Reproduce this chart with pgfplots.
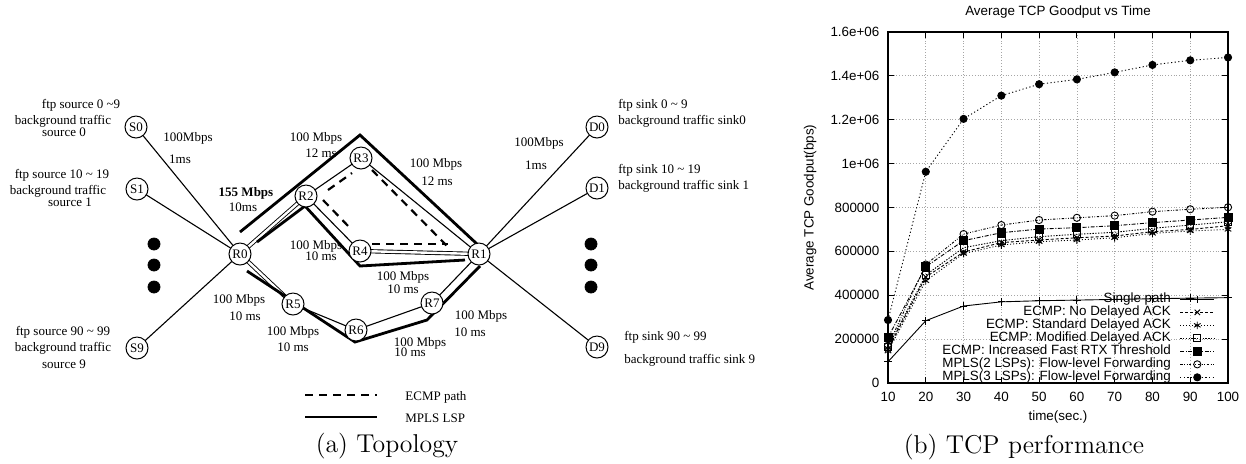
\documentclass[border=0pt]{standalone}
\usepackage{fontspec}
\usepackage{pgfplots}
\pgfplotsset{compat=1.18}
\newfontfamily\tnr{Liberation Serif}
\newfontfamily\helv{Liberation Sans}
\newcommand\tf{\tnr\fontsize{6.5}{7.5}\selectfont}
\newcommand\hf{\helv\fontsize{6.7}{8}\selectfont}
\pgfplotsset{
  thinlink/.style={black, line width=0.55pt, no marks},
  lsp/.style={black, line width=1.4pt, no marks},
  ecmp/.style={black, line width=1.1pt, dash pattern=on 4pt off 3pt, no marks},
  dbl/.style={black, line width=0.45pt, double=white, double distance=1.2pt, no marks},
}
\tikzset{lbl/.style={font=\tf, inner sep=0pt}}

\begin{document}
\begin{tikzpicture}
\path[use as bounding box] (0,0) rectangle (623pt,231.5pt);
% ---------------- (a) Topology ----------------
\begin{axis}[at={(195pt,115.75pt)}, anchor=center, scale only axis,
  width=390pt, height=231.5pt, xmin=0, xmax=780, ymin=0, ymax=463,
  y dir=reverse, hide axis, clip=false]
% access links
\addplot[thinlink] coordinates {(136,127) (240,254)};
\addplot[thinlink] coordinates {(137,189) (240,254)};
\addplot[thinlink] coordinates {(137,348) (240,254)};
\addplot[thinlink] coordinates {(479,254) (597,127)};
\addplot[thinlink] coordinates {(479,254) (597,188)};
\addplot[thinlink] coordinates {(479,254) (597,347)};
% core links
\addplot[thinlink] coordinates {(306,196) (361,158)};
\addplot[thinlink] coordinates {(361,158) (479,254)};
\addplot[thinlink] coordinates {(306,196) (360,251)};
\addplot[thinlink] coordinates {(293,304) (356,330)};
\addplot[thinlink] coordinates {(356,330) (432,303)};
\addplot[thinlink] coordinates {(432,303) (479,254)};
\addplot[dbl] coordinates {(240,254) (306,196)};
\addplot[dbl] coordinates {(240,254) (293,304)};
\addplot[dbl] coordinates {(360,251) (479,254)};
% MPLS LSPs
\addplot[lsp] coordinates {(240,232) (360,135) (477,244)};
\addplot[lsp] coordinates {(257,242) (305,206) (360,266) (465,260)};
\addplot[lsp] coordinates {(247,271) (355,342) (427,320) (480,266)};
% ECMP paths
\addplot[ecmp] coordinates {(328,190) (352,173)};
\addplot[ecmp] coordinates {(372,170) (450,249)};
\addplot[ecmp] coordinates {(323,200) (352,230)};
\addplot[ecmp] coordinates {(372,244) (448,244)};
% nodes with names
\addplot[only marks, mark=*, mark size=5.5pt,
  mark options={fill=white, draw=black, line width=0.5pt},
  point meta=explicit symbolic, nodes near coords, nodes near coords align=center,
  every node near coord/.append style={font=\tf, inner sep=0pt, anchor=center, black}]
  coordinates {(136,127)[S0] (137,189)[S1] (137,348)[S9] (597,127)[D0] (597,188)[D1] (597,347)[D9]
  (240,254)[R0] (479,254)[R1] (306,196)[R2] (361,158)[R3] (360,251)[R4] (293,304)[R5] (356,330)[R6] (432,303)[R7]};
% dots
\addplot[only marks, mark=*, mark size=3pt, black]
  coordinates {(154,244) (154,265) (154,287) (591,244) (591,265) (591,287)};
% legend
\addplot[ecmp] coordinates {(305,395) (377,395)};
\addplot[lsp] coordinates {(305,417) (377,417)};
\node[lbl, anchor=west] at (axis cs:405,397) {ECMP path};
\node[lbl, anchor=west] at (axis cs:405,418) {MPLS LSP};
% host labels
\node[lbl] at (axis cs:81,105) {ftp source 0 \textasciitilde9};
\node[lbl] at (axis cs:63,121) {background traffic};
\node[lbl] at (axis cs:64,132) {source 0};
\node[lbl] at (axis cs:62,175) {ftp source 10 \textasciitilde{} 19};
\node[lbl] at (axis cs:58,191) {background traffic};
\node[lbl] at (axis cs:70,202) {source 1};
\node[lbl] at (axis cs:63,332) {ftp source 90 \textasciitilde{} 99};
\node[lbl] at (axis cs:63,348) {background traffic};
\node[lbl] at (axis cs:64,364) {source 9};
\node[lbl, anchor=west] at (axis cs:618,105) {ftp sink 0 \textasciitilde{} 9};
\node[lbl, anchor=west] at (axis cs:618,121) {background traffic sink0};
\node[lbl, anchor=west] at (axis cs:618,170) {ftp sink 10 \textasciitilde{} 19};
\node[lbl, anchor=west] at (axis cs:618,186) {background traffic sink 1};
\node[lbl, anchor=west] at (axis cs:624,337) {ftp sink 90 \textasciitilde{} 99};
\node[lbl, anchor=west] at (axis cs:624,360) {background traffic sink 9};
% link labels
\node[lbl] at (axis cs:188,138) {100Mbps};
\node[lbl] at (axis cs:180,159) {1ms};
\node[lbl, font=\tf\bfseries] at (axis cs:246,193) {155 Mbps};
\node[lbl] at (axis cs:243,207) {10ms};
\node[lbl] at (axis cs:316,138) {100 Mbps};
\node[lbl] at (axis cs:321,153) {12 ms};
\node[lbl] at (axis cs:436,164) {100 Mbps};
\node[lbl] at (axis cs:437,181) {12 ms};
\node[lbl] at (axis cs:316,246) {100 Mbps};
\node[lbl] at (axis cs:321,256) {10 ms};
\node[lbl] at (axis cs:403,277) {100 Mbps};
\node[lbl] at (axis cs:403,289) {10 ms};
\node[lbl] at (axis cs:239,300) {100 Mbps};
\node[lbl] at (axis cs:245,316) {10 ms};
\node[lbl] at (axis cs:293,332) {100 Mbps};
\node[lbl] at (axis cs:293,347) {10 ms};
\node[lbl] at (axis cs:420,343) {100 Mbps};
\node[lbl] at (axis cs:410,352) {10 ms};
\node[lbl] at (axis cs:481,316) {100 Mbps};
\node[lbl] at (axis cs:470,332) {10 ms};
\node[lbl] at (axis cs:539,143) {100Mbps};
\node[lbl] at (axis cs:536,165) {1ms};
% captions
\node[inner sep=0pt, font=\fontsize{12.9}{15}\selectfont] at (axis cs:387,446) {(a) Topology};
\node[inner sep=0pt, font=\fontsize{12.9}{15}\selectfont] at (axis cs:1024,447) {(b) TCP performance};
\end{axis}
% ---------------- (b) TCP performance ----------------
\begin{axis}[at={(444pt,40pt)}, anchor=south west, scale only axis,
  width=170pt, height=175.5pt,
  xmin=10, xmax=100, ymin=0, ymax=1600000,
  xtick={10,20,30,40,50,60,70,80,90,100},
  xticklabels={10,20,30,40,50,60,70,80,90,100},
  ytick={0,200000,400000,600000,800000,1000000,1200000,1400000,1600000},
  yticklabels={0,200000,400000,600000,800000,1e+06,1.2e+06,1.4e+06,1.6e+06},
  scaled y ticks=false, scaled x ticks=false,
  /pgf/number format/assume math mode=true,
  tick label style={font=\hf},
  xticklabel style={anchor=center, yshift=-7pt},
  yticklabel style={anchor=east, xshift=-0.8pt},
  xlabel={time(sec.)},
  xlabel style={font=\hf, at={(axis description cs:0.5,-0.097)}, anchor=center},
  ylabel={Average TCP Goodput(bps)},
  ylabel style={font=\hf, at={(axis description cs:-0.229,0.5)}, anchor=center},
  grid=major, major grid style={gray!70, densely dotted, line width=0.4pt},
  tick align=inside, major tick length=3pt, tick style={black, line width=0.5pt},
  axis line style={line width=0.6pt},
  clip mode=individual,
  legend cell align=right, legend plot pos=right,
  legend style={draw=none, fill=none, at={(0.98,0.268)}, anchor=north east,
    font=\hf, row sep=0.5pt, column sep=4.5pt,
    nodes={inner sep=0pt, text height=4.8pt, text depth=1.2pt}},
]
\node[font=\hf, inner sep=0pt] at (axis description cs:0.5,1.057) {Average TCP Goodput vs Time};
\addplot[black, line width=0.45pt, mark=+, mark size=1.9pt, mark options={solid}]
  coordinates {(10,97000) (20,284000) (30,351000) (40,370000) (50,375000) (60,378000) (70,381000) (80,384000) (90,387000) (100,389000)};
\addlegendentry{Single path}
\addplot[black, line width=0.45pt, dash pattern=on 1.5pt off 1pt, mark=x, mark size=1.9pt, mark options={solid}]
  coordinates {(10,155000) (20,483000) (30,597000) (40,640000) (50,652000) (60,662000) (70,670000) (80,690000) (90,700000) (100,717000)};
\addlegendentry{ECMP: No Delayed ACK}
\addplot[black, line width=0.45pt, dash pattern=on 0.5pt off 1pt, mark=asterisk, mark size=1.9pt, mark options={solid}]
  coordinates {(10,145000) (20,466000) (30,590000) (40,629000) (50,644000) (60,652000) (70,662000) (80,682000) (90,693000) (100,700000)};
\addlegendentry{ECMP: Standard Delayed ACK}
\addplot[black, line width=0.45pt, dash pattern=on 0.7pt off 0.7pt, mark=square, mark size=1.8pt, mark options={solid}]
  coordinates {(10,165000) (20,492000) (30,617000) (40,649000) (50,667000) (60,678000) (70,687000) (80,705000) (90,720000) (100,735000)};
\addlegendentry{ECMP: Modified Delayed ACK}
\addplot[black, line width=0.45pt, dash pattern=on 2pt off 0.8pt on 0.5pt off 0.8pt, mark=square*, mark size=2pt, mark options={solid}]
  coordinates {(10,208000) (20,530000) (30,649000) (40,685000) (50,702000) (60,708000) (70,717000) (80,731000) (90,743000) (100,755000)};
\addlegendentry{ECMP: Increased Fast RTX Threshold}
\addplot[black, line width=0.45pt, dash pattern=on 1.2pt off 0.8pt on 0.4pt off 0.8pt on 0.4pt off 0.8pt, mark=o, mark size=1.8pt, mark options={solid}]
  coordinates {(10,170000) (20,540000) (30,679000) (40,720000) (50,743000) (60,753000) (70,763000) (80,781000) (90,792000) (100,801000)};
\addlegendentry{MPLS(2 LSPs): Flow-level Forwarding}
\addplot[black, line width=0.45pt, dash pattern=on 0.6pt off 1.2pt, mark=*, mark size=1.8pt, mark options={solid}]
  coordinates {(10,287000) (20,963000) (30,1204000) (40,1310000) (50,1362000) (60,1384000) (70,1416000) (80,1450000) (90,1471000) (100,1484000)};
\addlegendentry{MPLS(3 LSPs): Flow-level Forwarding}
\end{axis}
\end{tikzpicture}
\end{document}
